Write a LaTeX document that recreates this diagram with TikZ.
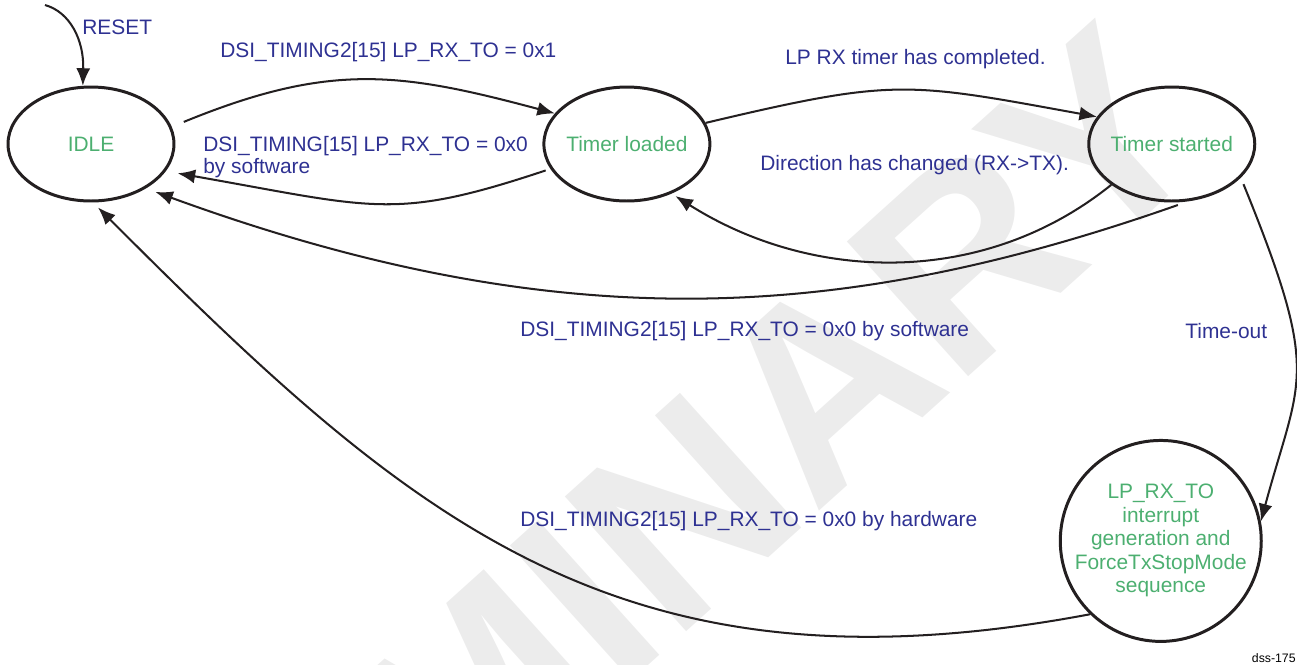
\documentclass[tikz,border=0pt]{standalone}
\usepackage{fontspec}
\setmainfont{Liberation Sans}
\usepackage{tikz}
\usetikzlibrary{positioning,arrows.meta,shapes.geometric}

\definecolor{lblblue}{RGB}{46,49,146}
\definecolor{stgreen}{RGB}{76,175,112}
\definecolor{wmgray}{RGB}{236,236,236}
\definecolor{inkblack}{RGB}{35,31,32}

\newcommand{\lblfont}{\fontsize{11.9}{13.4}\selectfont}
\newcommand{\zw}[1]{\makebox[0pt]{#1}}

\begin{document}
\begin{tikzpicture}[
    x=0.02cm, y=-0.02cm,
    state/.style={draw=inkblack, ellipse, line width=1.7pt, inner sep=0pt,
                  minimum width=3.32cm, minimum height=2.28cm,
                  text=stgreen, font=\lblfont},
    bigstate/.style={draw=inkblack, circle, line width=1.7pt, inner sep=0pt,
                     minimum size=4.02cm, text=stgreen, font=\lblfont},
    lbl/.style={text=lblblue, font=\lblfont, inner sep=0pt, anchor=base west},
    wm/.style={text=wmgray, font=\fontsize{150}{150}\selectfont\bfseries,
               rotate=42, inner sep=0pt},
    arr/.style={-{Latex[length=10pt,width=8pt]}, line width=1.15pt, draw=inkblack},
  ]
  \useasboundingbox (0,0) rectangle (1297,664);
  % Watermark
  \node[wm] (wmark) at (489,687) {PRELIMINARY};

  % States
  \node[state] (idle) at (91,144) {\zw{IDLE}};
  \node[state, right=7.34cm of idle]   (loaded)  {\zw{Timer loaded}};
  \node[state, right=7.52cm of loaded] (started) {\zw{Timer started}};
  \node[bigstate, below=4.73cm of started, xshift=-0.22cm] (lprx)
       {\zw{\begin{tabular}{@{}c@{}}LP\_RX\_TO\\interrupt\\generation and\\ForceTxStopMode\\sequence\end{tabular}}};

  % Transition labels
  \node[lbl] (lreset) at (82,34) {RESET};
  \node[lbl] (lset)   at (220,57) {DSI\_TIMING2[15] LP\_RX\_TO = 0x1};
  \node[lbl, align=left, font=\fontsize{11.9}{12.8}\selectfont] (lclr) at (203,173.5)
       {DSI\_TIMING[15] LP\_RX\_TO = 0x0\\by software};
  \node[lbl] (ldone)  at (785,64) {LP RX timer has completed.};
  \node[lbl] (ldir)   at (760,170) {Direction has changed (RX->TX).};
  \node[lbl] (lsw)    at (520,336) {DSI\_TIMING2[15] LP\_RX\_TO = 0x0 by software};
  \node[lbl] (lto)    at (1185,338) {Time-out};
  \node[lbl] (lhw)    at (520,526) {DSI\_TIMING2[15] LP\_RX\_TO = 0x0 by hardware};
  \node[font=\fontsize{7}{8}\selectfont, inner sep=0pt, anchor=base east] (tag)
       at (1296,662) {dss-175};

  % Transitions
  \coordinate (rst) at (45,5);
  \draw[arr] (rst) .. controls (70,12) and (84,40) .. (idle.98);
  \draw[arr, shorten <=0.26cm] (idle.12) .. controls (330,62) and (400,72) .. (loaded.157);
  \draw[arr, shorten <=0.1cm, shorten >=0.24cm]
       (loaded.198) .. controls (394,221) and (375,208) .. (idle.-20);
  \draw[arr] (loaded.15) .. controls (895,78) and (906,82) .. (started.160);
  \draw[arr, shorten >=0.09cm]
       (started.214) .. controls (983,288) and (811,282) .. (loaded.-48);
  \draw[arr, shorten <=0.22cm, shorten >=0.2cm]
       (started.-74) .. controls (853,319) and (569,343) .. (idle.-39);
  \draw[arr, shorten <=0.14cm]
       (started.-26) .. controls (1322,377) and (1300,376) .. (lprx.11);
  \draw[arr, shorten >=0.14cm]
       (lprx.226) .. controls (619,703) and (411,521) .. (idle.-88);
\end{tikzpicture}
\end{document}
